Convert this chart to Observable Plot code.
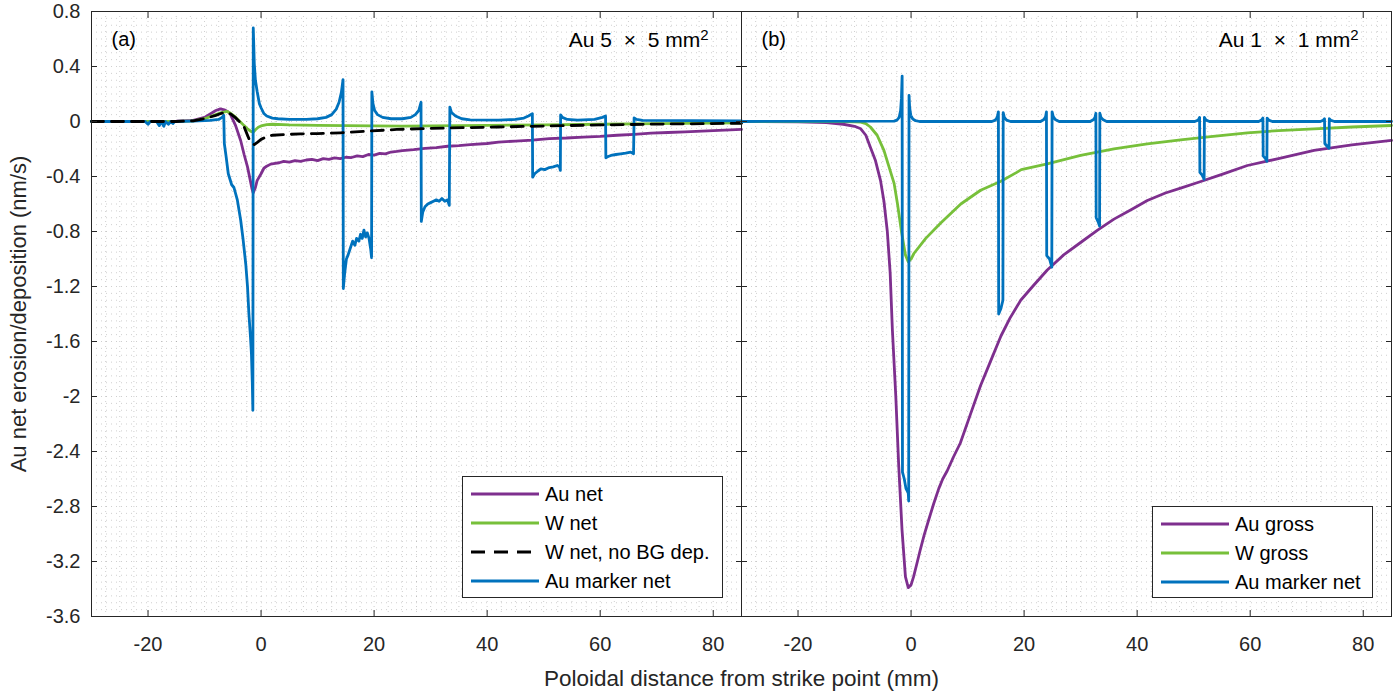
<!DOCTYPE html>
<html><head><meta charset="utf-8">
<script src="https://cdn.jsdelivr.net/npm/d3@7"></script>
<script src="https://cdn.jsdelivr.net/npm/@observablehq/plot@0.6"></script>
<style>
body{margin:0;background:#fff;font-family:"Liberation Sans",Arial,sans-serif;color:#262626;}
#wrap{position:relative;width:1400px;height:693px;overflow:hidden;}
.legend{position:absolute;border:1px solid #262626;background:#fff;box-sizing:border-box;}
.legend .sw{position:absolute;left:7px;width:70px;height:6px;overflow:visible;}
.legend .lb{position:absolute;left:82px;font-size:20px;line-height:20px;white-space:nowrap;color:#000;}
</style></head><body><div id="wrap"></div>
<script>
// ---------- tick values / labels ----------
const xTicks = [-20, 0, 20, 40, 60, 80];
const xTickLabels = ["-20", "0", "20", "40", "60", "80"];
const yTicks = [0.8, 0.4, 0, -0.4, -0.8, -1.2, -1.6, -2, -2.4, -2.8, -3.2, -3.6];
const yTickLabels = ["0.8", "0.4", "0", "-0.4", "-0.8", "-1.2", "-1.6", "-2", "-2.4", "-2.8", "-3.2", "-3.6"];
const xMinor = [-30,-27.5,-25,-22.5,-20,-17.5,-15,-12.5,-10,-7.5,-5,-2.5,0,2.5,5,7.5,10,12.5,15,17.5,20,22.5,25,27.5,30,32.5,35,37.5,40,42.5,45,47.5,50,52.5,55,57.5,60,62.5,65,67.5,70,72.5,75,77.5,80,82.5,85];
const yMinor = [0.8,0.75,0.7,0.65,0.6,0.55,0.5,0.45,0.4,0.35,0.3,0.25,0.2,0.15,0.1,0.05,0,-0.05,-0.1,-0.15,-0.2,-0.25,-0.3,-0.35,-0.4,-0.45,-0.5,-0.55,-0.6,-0.65,-0.7,-0.75,-0.8,-0.85,-0.9,-0.95,-1,-1.05,-1.1,-1.15,-1.2,-1.25,-1.3,-1.35,-1.4,-1.45,-1.5,-1.55,-1.6,-1.65,-1.7,-1.75,-1.8,-1.85,-1.9,-1.95,-2,-2.05,-2.1,-2.15,-2.2,-2.25,-2.3,-2.35,-2.4,-2.45,-2.5,-2.55,-2.6,-2.65,-2.7,-2.75,-2.8,-2.85,-2.9,-2.95,-3,-3.05,-3.1,-3.15,-3.2,-3.25,-3.3,-3.35,-3.4,-3.45,-3.5,-3.55,-3.6];

// ---------- panel (a): Au 5 x 5 mm2 ----------
const aAuNetX = [-30,-20,-15,-12,-10,-9,-8,-7.2,-6.5,-5.8,-5.4,-4.5,-3.6,-3,-2.4,-1.9,-1.6,-1.4,-1,-0.7,0,0.5,1,1.7,2.5,3.2,4,5,6,7,8,9,10,11,12,13,14,15,16,17,18,19,20,21,22,23,24,25,27,29,31,33,35,37,40,42,45,48,51,54,57,60,63,66,69,72,75,78,81,85];
const aAuNetY = [0,0,0.002,0.008,0.03,0.055,0.08,0.092,0.085,0.07,0.05,-0.03,-0.14,-0.24,-0.33,-0.43,-0.49,-0.52,-0.48,-0.43,-0.38,-0.34,-0.325,-0.31,-0.305,-0.3,-0.29,-0.295,-0.285,-0.29,-0.28,-0.275,-0.285,-0.27,-0.275,-0.265,-0.27,-0.26,-0.262,-0.25,-0.255,-0.24,-0.245,-0.232,-0.235,-0.222,-0.218,-0.212,-0.205,-0.195,-0.19,-0.18,-0.175,-0.168,-0.16,-0.15,-0.142,-0.135,-0.124,-0.12,-0.113,-0.108,-0.1,-0.093,-0.085,-0.08,-0.075,-0.07,-0.065,-0.058];

const aWNetX = [-30,-15,-12,-10,-8,-7,-6,-5.4,-4.6,-3.6,-3,-2.4,-1.8,-1.4,-1,-0.5,0,1,2,5,10,15,20,25,30,40,50,60,70,85];
const aWNetY = [0,0,0.005,0.02,0.05,0.065,0.073,0.06,0.035,-0.005,-0.03,-0.053,-0.072,-0.078,-0.06,-0.042,-0.032,-0.022,-0.02,-0.025,-0.028,-0.03,-0.032,-0.034,-0.032,-0.028,-0.024,-0.02,-0.015,-0.01];

const aWNetNoBGX = [-30,-15,-12,-10,-8,-7,-6,-5.4,-4.6,-3.6,-3,-2.5,-2.1,-1.6,-1.2,-0.6,0,1,2,4,7,10,14,19,24,30,42,50,60,70,85];
const aWNetNoBGY = [0,0,0.005,0.02,0.045,0.06,0.066,0.055,0.03,-0.01,-0.04,-0.09,-0.13,-0.16,-0.168,-0.15,-0.13,-0.11,-0.1,-0.095,-0.09,-0.088,-0.082,-0.07,-0.058,-0.05,-0.04,-0.033,-0.025,-0.019,-0.013];

const aMarkerX = [-30,-20.5,-20,-19.6,-18.5,-18,-17.7,-17.2,-16.9,-16.4,-16,-15.6,-15.3,-12,-9,-7.5,-6.9,-6.6,-6.5,-6.2,-5.8,-5.2,-4.8,-4.2,-3.6,-3.2,-2.7,-2.4,-2.15,-1.9,-1.7,-1.55,-1.45,-1.38,-1.2,-1,-0.7,-0.3,0,0.5,1,2,3,5,8,10,11.5,12.5,13.3,13.8,14.2,14.5,14.55,14.8,15.1,15.4,15.8,16.2,16.6,16.9,17.3,17.6,17.9,18.2,18.5,18.8,19.1,19.4,19.55,19.6,19.8,20.1,20.6,21.5,23,25,26.5,27.3,27.9,28.3,28.35,28.6,29,29.5,30,30.5,31,31.5,32,32.5,33,33.3,33.4,33.7,34.4,35.5,37,42,45,46.5,47.3,48,48.05,48.4,49,49.5,50.2,51,51.7,52.4,52.8,52.95,53,53.3,54.2,56,59,60.4,60.95,61,61.4,61.9,62.8,63.6,64.5,65.4,65.9,66,66.4,67.5,85];
const aMarkerY = [0,0,-0.02,0,0,-0.03,0,-0.035,0,-0.02,0,-0.015,0,0.003,0.008,0.015,0.03,0.045,-0.16,-0.25,-0.38,-0.46,-0.48,-0.57,-0.72,-0.85,-1.04,-1.2,-1.4,-1.55,-1.69,-1.9,-2.1,0.68,0.42,0.3,0.22,0.13,0.1,0.058,0.04,0.025,0.02,0.016,0.016,0.02,0.03,0.05,0.09,0.14,0.21,0.305,-1.215,-1.1,-1,-0.97,-0.92,-0.87,-0.9,-0.85,-0.87,-0.82,-0.85,-0.79,-0.84,-0.81,-0.85,-0.93,-0.99,0.215,0.13,0.08,0.05,0.03,0.02,0.02,0.03,0.05,0.08,0.14,-0.727,-0.66,-0.62,-0.6,-0.59,-0.58,-0.57,-0.58,-0.56,-0.58,-0.57,-0.61,0.105,0.065,0.04,0.02,0.012,0.01,0.015,0.025,0.04,0.056,-0.405,-0.38,-0.36,-0.345,-0.35,-0.335,-0.33,-0.32,-0.33,-0.356,0.048,0.03,0.015,0.01,0.015,0.03,0.04,-0.264,-0.255,-0.247,-0.24,-0.235,-0.23,-0.223,-0.235,0.027,0.015,0.008,0.005];

// ---------- panel (b): Au 1 x 1 mm2 ----------
const bAuGrossX = [-30,-20,-15,-12,-10,-8.9,-8,-7.2,-6.3,-5.4,-4.8,-4.2,-3.7,-3.3,-2.7,-2.2,-1.6,-1,-0.5,0,0.45,1,1.6,2.3,3.1,4,4.9,5.6,6.4,7.5,8.7,10.5,12.3,14,15.9,17.5,19.4,21.5,24.1,27,30,33,35.9,39,41.8,45,47.7,51,55,59.5,65,71.3,78,85];
const bAuGrossY = [0,-0.002,-0.008,-0.02,-0.035,-0.053,-0.1,-0.187,-0.284,-0.43,-0.58,-0.8,-1.1,-1.52,-2,-2.49,-2.97,-3.31,-3.39,-3.37,-3.31,-3.22,-3.12,-3.01,-2.9,-2.78,-2.67,-2.6,-2.54,-2.44,-2.34,-2.13,-1.92,-1.75,-1.56,-1.43,-1.3,-1.2,-1.08,-0.97,-0.88,-0.79,-0.71,-0.64,-0.575,-0.52,-0.485,-0.44,-0.385,-0.32,-0.27,-0.21,-0.17,-0.138];

const bWGrossX = [-30,-15,-12,-10,-8.9,-8,-7.2,-6,-4.8,-3.9,-3,-2.4,-1.7,-1,-0.5,0,0.5,2.6,5.2,8.8,12.3,15.9,18.7,19.5,24.1,30,35.9,41.8,47.7,53,59.5,65,71.3,78,85];
const bWGrossY = [0,0,-0.001,-0.002,-0.005,-0.015,-0.04,-0.1,-0.21,-0.33,-0.45,-0.6,-0.8,-0.97,-1.02,-1,-0.96,-0.85,-0.74,-0.6,-0.5,-0.435,-0.37,-0.35,-0.308,-0.247,-0.199,-0.162,-0.133,-0.11,-0.082,-0.066,-0.053,-0.04,-0.029];

const bMarkerX = [-30,-3,-2.5,-2.1,-1.85,-1.7,-1.58,-1.52,-1.2,-0.9,-0.5,-0.42,-0.36,-0.25,-0.05,0.3,0.8,1.5,14.3,14.9,15.25,15.45,15.5,15.9,16.25,16.3,16.5,16.9,17.6,22.9,23.5,23.8,23.95,24,24.5,24.9,24.95,25.15,25.5,26.2,31.7,32.3,32.55,32.7,32.75,33.1,33.35,33.4,33.6,34,34.6,50.2,50.8,51.05,51.1,51.5,51.85,51.9,52.2,52.8,61.5,62,62.25,62.3,62.7,62.95,63,63.3,63.9,72.4,72.9,73.15,73.2,73.6,73.95,74,74.3,74.9,85];
const bMarkerY = [0,0.003,0.01,0.03,0.08,0.17,0.33,-2.55,-2.6,-2.67,-2.7,-2.76,0.19,0.1,0.045,0.018,0.006,0,0,0.01,0.03,0.07,-1.4,-1.36,-1.3,0.065,0.03,0.01,0,0,0.015,0.035,0.07,-0.975,-1,-1.06,0.07,0.035,0.015,0,0,0.015,0.03,0.06,-0.7,-0.73,-0.76,0.06,0.03,0.012,0,0,0.01,0.03,-0.37,-0.39,-0.42,0.03,0.01,0,0,0.01,0.025,-0.25,-0.27,-0.29,0.025,0.01,0,0,0.008,0.02,-0.16,-0.18,-0.195,0.02,0.008,0,0];

// ---------- labels ----------
const panelTags = ["(a)", "(b)"];
const panelTitles = ["Au 5\u00a0\u00a0\u00d7\u00a0\u00a05 mm", "Au 1\u00a0\u00a0\u00d7\u00a0\u00a01 mm"];
const panelTitleSup = ["2", "2"];
const legendA = ["Au net", "W net", "W net, no BG dep.", "Au marker net"];
const legendB = ["Au gross", "W gross", "Au marker net"];
const xLabel = "Poloidal distance from strike point (mm)";
const yLabel = "Au net erosion/deposition (nm/s)";

// ---------- styles ----------
const PURPLE = "#7E2F8E", GREEN = "#77C03A", BLUE = "#0072BD", BLACK = "#000000";
const LW = 2.8;

const rowsOf = (panel, xs, ys) => xs.map((x, i) => ({panel, x, y: ys[i]}));
const panelText = [
  {panel: "a", tag: panelTags[0], title: panelTitles[0], sup: panelTitleSup[0]},
  {panel: "b", tag: panelTags[1], title: panelTitles[1], sup: panelTitleSup[1]}
];
const gridStyle = {stroke: "#262626", strokeOpacity: 0.22, strokeDasharray: "1,4", strokeWidth: 1};

const chart = Plot.plot({
  width: 1400, height: 693,
  marginLeft: 91, marginRight: 9, marginTop: 11, marginBottom: 77,
  style: {fontFamily: "'Liberation Sans', Arial, sans-serif", fontSize: "20px", color: "#262626", background: "#fff"},
  fx: {domain: ["a", "b"], padding: 0, axis: null, label: null},
  x: {domain: [-30, 85]},
  y: {domain: [-3.6, 0.8]},
  marks: [
    Plot.gridY(yMinor, gridStyle),
    Plot.gridX(xMinor, gridStyle),
    Plot.line(rowsOf("a", aAuNetX, aAuNetY), {x: "x", y: "y", fx: "panel", stroke: PURPLE, strokeWidth: LW}),
    Plot.line(rowsOf("a", aWNetX, aWNetY), {x: "x", y: "y", fx: "panel", stroke: GREEN, strokeWidth: LW}),
    Plot.line(rowsOf("a", aMarkerX, aMarkerY), {x: "x", y: "y", fx: "panel", stroke: BLUE, strokeWidth: LW}),
    Plot.line(rowsOf("a", aWNetNoBGX, aWNetNoBGY), {x: "x", y: "y", fx: "panel", stroke: BLACK, strokeWidth: LW, strokeDasharray: "12,8"}),
    Plot.line(rowsOf("b", bAuGrossX, bAuGrossY), {x: "x", y: "y", fx: "panel", stroke: PURPLE, strokeWidth: LW}),
    Plot.line(rowsOf("b", bWGrossX, bWGrossY), {x: "x", y: "y", fx: "panel", stroke: GREEN, strokeWidth: LW}),
    Plot.line(rowsOf("b", bMarkerX, bMarkerY), {x: "x", y: "y", fx: "panel", stroke: BLUE, strokeWidth: LW}),
    Plot.frame({stroke: "#262626", strokeWidth: 1}),
    // inward ticks on all four sides of each panel
    Plot.axisX(xTicks, {anchor: "bottom", tickSize: -6, fill: "none", stroke: "#262626", facetAnchor: null, label: null}),
    Plot.axisX(xTicks, {anchor: "top", tickSize: -6, fill: "none", stroke: "#262626", facetAnchor: null, label: null}),
    Plot.axisY(yTicks, {anchor: "left", tickSize: -6, fill: "none", stroke: "#262626", facetAnchor: null, label: null}),
    Plot.axisY(yTicks, {anchor: "right", tickSize: -6, fill: "none", stroke: "#262626", facetAnchor: null, label: null}),
    // tick labels and axis titles
    Plot.axisX(xTicks, {anchor: "bottom", tickSize: 0, tickPadding: 20, fill: "#262626",
      tickFormat: d => xTickLabels[xTicks.indexOf(d)],
      label: xLabel, labelAnchor: "center", labelArrow: "none", labelOffset: 69}),
    Plot.axisY(yTicks, {anchor: "left", tickSize: 0, tickPadding: 11, fill: "#262626",
      tickFormat: d => yTickLabels[yTicks.indexOf(d)],
      label: yLabel, labelAnchor: "center", labelArrow: "none", labelOffset: 81}),
    Plot.text(panelText, {fx: "panel", text: "tag", frameAnchor: "top-left", textAnchor: "start", lineAnchor: "middle", dx: 20, dy: 28, fontSize: 20, fill: "#000"}),
    Plot.text(panelText, {fx: "panel", text: "title", frameAnchor: "top-right", textAnchor: "end", lineAnchor: "middle", dx: -33, dy: 29, fontSize: 21, fill: "#000", className: "ptitle"})
  ]
});
const wrap = document.getElementById("wrap");
wrap.appendChild(chart);

// superscript "2" on the panel titles
chart.querySelectorAll("g.ptitle text").forEach((t, i) => {
  const sup = document.createElementNS("http://www.w3.org/2000/svg", "tspan");
  sup.setAttribute("dy", "-0.45em");
  sup.setAttribute("font-size", "15");
  sup.textContent = panelTitleSup[i] || "2";
  t.appendChild(sup);
});
// larger axis titles, as in the reference
chart.querySelectorAll("text").forEach(t => {
  if (t.textContent === xLabel) t.setAttribute("font-size", "22.5");
  if (t.textContent === yLabel) t.setAttribute("font-size", "22");
});

// ---------- legends (HTML boxes over the plot) ----------
function legend(labels, colors, dashes, box) {
  const div = document.createElement("div");
  div.className = "legend";
  Object.assign(div.style, {left: box.left + "px", top: box.top + "px", width: box.w + "px", height: box.h + "px"});
  labels.forEach((lab, i) => {
    const cy = box.row0 + i * box.step;
    const sw = document.createElementNS("http://www.w3.org/2000/svg", "svg");
    sw.setAttribute("class", "sw");
    sw.setAttribute("width", "70"); sw.setAttribute("height", "6");
    sw.style.top = (cy - 3) + "px";
    const ln = document.createElementNS("http://www.w3.org/2000/svg", "line");
    ln.setAttribute("x1", "1"); ln.setAttribute("x2", "69"); ln.setAttribute("y1", "3"); ln.setAttribute("y2", "3");
    ln.setAttribute("stroke", colors[i]); ln.setAttribute("stroke-width", LW);
    if (dashes[i]) ln.setAttribute("stroke-dasharray", dashes[i]);
    sw.appendChild(ln);
    div.appendChild(sw);
    const t = document.createElement("div");
    t.className = "lb";
    t.textContent = lab;
    t.style.top = (cy - 10) + "px";
    div.appendChild(t);
  });
  wrap.appendChild(div);
}
legend(legendA, [PURPLE, GREEN, BLACK, BLUE], [null, null, "14,9", null],
  {left: 462, top: 476, w: 261, h: 122, row0: 17, step: 29});
legend(legendB, [PURPLE, GREEN, BLUE], [null, null, null],
  {left: 1152, top: 506, w: 221, h: 92, row0: 17, step: 29});
</script></body></html>
